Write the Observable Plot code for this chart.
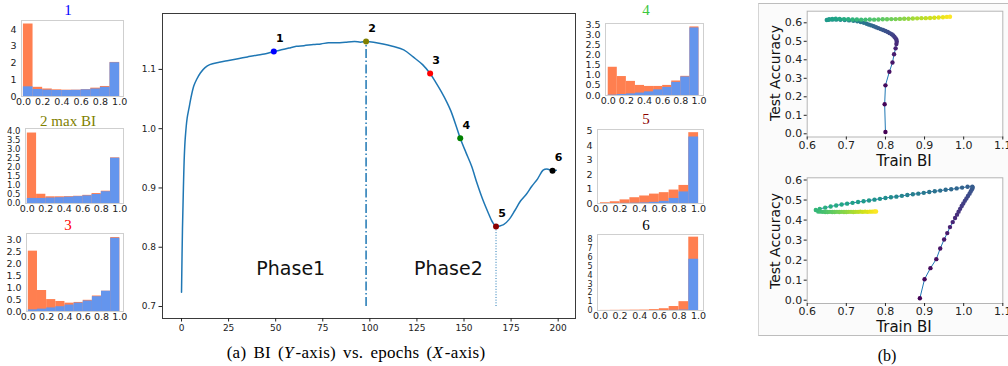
<!DOCTYPE html>
<html><head><meta charset="utf-8">
<script src="https://cdn.jsdelivr.net/npm/d3@7"></script>
<script src="https://cdn.jsdelivr.net/npm/@observablehq/plot@0.6"></script>
<style>
body{margin:0;background:#fff;}
#root{position:relative;width:1008px;height:366px;overflow:hidden;background:#fff;font-family:"DejaVu Sans",sans-serif;}
.abs{position:absolute;}
.abs svg{display:block;overflow:visible;}
.ttl{position:absolute;font-family:"Liberation Serif",serif;font-size:15px;transform:translate(-50%,-50%);white-space:nowrap;line-height:1;}
.lbl{position:absolute;font-family:"DejaVu Sans",sans-serif;color:#111;transform:translate(-50%,-50%);white-space:nowrap;line-height:1;}
</style></head><body><div id="root"></div>
<script>
// ---------- main chart data: BI vs epochs ----------
const epochs = [0,0.5,1,1.5,2,3,4,5,6.5,8,10,12.5,15,20,25,30,35,40,44,49,53,57,61,65,70,74,78,83,87,92,95,98,102,107,112,118,123,128,132,135,138,141,143,146,148,151,154,157,160,163,165,167,169,171,174,177,180,183,186,189,192,194,196,197,199];
const biValues = [0.724,0.83,0.90,0.955,0.985,1.018,1.035,1.052,1.072,1.083,1.094,1.103,1.108,1.112,1.115,1.118,1.121,1.124,1.126,1.130,1.133,1.136,1.139,1.140,1.142,1.143,1.145,1.145,1.146,1.147,1.146,1.147,1.146,1.143,1.139,1.133,1.121,1.108,1.093,1.078,1.062,1.044,1.030,1.003,0.984,0.960,0.937,0.907,0.880,0.857,0.843,0.835,0.836,0.838,0.847,0.862,0.878,0.889,0.903,0.915,0.930,0.932,0.930,0.929,0.930];
const keyLabels = ["1","2","3","4","5","6"];
const keyEpochs = [49,98,132,148,167,197];
const keyValues = [1.130,1.147,1.093,0.984,0.835,0.929];
const keyColors = ["#0000ff","#808000","#ff0000","#008000","#8b0000","#000000"];
const phaseLabels = ["Phase1","Phase2"];
const phaseEpochs = [58,141.7];
const phaseValues = [0.763,0.763];
const epochTicks = [0,25,50,75,100,125,150,175,200];
const biTicks = [0.7,0.8,0.9,1.0,1.1];
const biFloor = 0.7;

// ---------- histogram data (density, stacked: blue part and total height) ----------
const binStarts = [0,0.1,0.2,0.3,0.4,0.5,0.6,0.7,0.8,0.9];
const binEnds   = [0.1,0.2,0.3,0.4,0.5,0.6,0.7,0.8,0.9,1.0];
const h1Blue  = [0.58,0.42,0.38,0.36,0.36,0.37,0.40,0.45,0.55,2.02];
const h1Total = [4.34,0.55,0.45,0.40,0.38,0.38,0.41,0.50,0.60,2.04];
const h2Blue  = [0.28,0.28,0.30,0.32,0.35,0.38,0.42,0.50,0.65,2.50];
const h2Total = [3.89,0.51,0.37,0.37,0.38,0.40,0.45,0.55,0.68,2.52];
const h3Blue  = [0.07,0.10,0.15,0.20,0.27,0.35,0.44,0.62,0.85,3.07];
const h3Total = [2.53,0.88,0.50,0.42,0.35,0.38,0.47,0.65,0.85,3.10];
const h4Blue  = [0.02,0.05,0.08,0.12,0.18,0.28,0.40,0.65,0.92,3.35];
const h4Total = [1.40,0.94,0.70,0.50,0.45,0.45,0.50,0.72,0.95,3.40];
const h5Blue  = [0,0,0.01,0.02,0.04,0.08,0.15,0.35,0.80,4.60];
const h5Total = [0.05,0.12,0.25,0.40,0.52,0.65,0.75,0.93,1.25,4.90];
const h6Blue  = [0,0,0,0,0,0,0,0.02,0.05,5.80];
const h6Total = [0.01,0.02,0.03,0.04,0.05,0.10,0.20,0.45,1.00,8.30];
const histTitles = ["1","2 max BI","3","4","5","6"];
const histTitleColors = ["#0000ff","#808000","#ff0000","#3cc83c","#8b0000","#000000"];
const histXTicks = [0,0.2,0.4,0.6,0.8,1.0];
const h1YTicks = [0,1,2,3,4];
const h2YTicks = [0,0.5,1,1.5,2,2.5,3,3.5,4];
const h3YTicks = [0,0.5,1,1.5,2,2.5,3];
const h4YTicks = [0,0.5,1,1.5,2,2.5,3,3.5];
const h5YTicks = [0,1,2,3,4,5];
const h6YTicks = [0,1,2,3,4,5,6,7,8];

// ---------- (b) scatter data: Train BI vs Test Accuracy ----------
const b1BI = [0.800,0.798,0.800,0.810,0.818,0.822,0.826,0.828,0.829,0.828,0.826,0.823,0.820,0.816,0.811,0.806,0.800,0.794,0.788,0.782,0.776,0.770,0.764,0.758,0.752,0.745,0.737,0.728,0.718,0.707,0.696,0.685,0.674,0.664,0.655,0.650,
  0.656,0.664,0.673,0.683,0.694,0.705,0.716,0.727,0.738,0.749,0.760,0.771,0.782,0.793,0.804,0.815,0.826,0.837,0.848,0.859,0.870,0.881,0.892,0.903,0.914,0.925,0.936,0.947,0.957,0.965];
const b1Acc = [0.010,0.160,0.262,0.335,0.385,0.430,0.462,0.485,0.498,0.508,0.516,0.524,0.531,0.538,0.544,0.550,0.556,0.561,0.566,0.571,0.576,0.581,0.586,0.590,0.595,0.600,0.604,0.608,0.611,0.613,0.615,0.616,0.617,0.617,0.616,0.615,
  0.619,0.621,0.622,0.621,0.620,0.619,0.618,0.618,0.617,0.617,0.618,0.617,0.618,0.619,0.619,0.620,0.620,0.621,0.622,0.622,0.623,0.624,0.625,0.625,0.626,0.627,0.629,0.630,0.632,0.633];
const b2BI = [0.888,0.900,0.915,0.930,0.940,0.950,0.958,0.965,0.972,0.978,0.983,0.987,0.991,0.995,0.999,1.003,1.007,1.011,1.015,1.018,1.021,1.023,1.022,
  1.010,0.996,0.982,0.968,0.954,0.940,0.926,0.912,0.898,0.884,0.870,0.856,0.842,0.828,0.814,0.800,0.786,0.772,0.758,0.744,0.730,0.716,0.702,0.688,0.674,0.660,0.646,0.632,0.622,
  0.628,0.634,0.640,0.646,0.652,0.658,0.664,0.670,0.676,0.682,0.688,0.694,0.700,0.706,0.712,0.718,0.724,0.730,0.736,0.742,0.748,0.754,0.760,0.766,0.772,0.776];
const b2Acc = [0.010,0.105,0.160,0.205,0.258,0.303,0.335,0.365,0.390,0.410,0.427,0.442,0.456,0.470,0.483,0.496,0.508,0.520,0.532,0.543,0.553,0.561,0.567,
  0.566,0.562,0.558,0.554,0.551,0.547,0.544,0.540,0.536,0.532,0.529,0.525,0.521,0.517,0.514,0.510,0.506,0.502,0.498,0.494,0.490,0.486,0.482,0.478,0.473,0.468,0.462,0.456,0.450,
  0.443,0.442,0.441,0.440,0.440,0.441,0.440,0.440,0.441,0.440,0.441,0.440,0.440,0.441,0.441,0.440,0.441,0.441,0.442,0.441,0.442,0.441,0.442,0.442,0.443,0.443];
const bXTicks = [0.6,0.7,0.8,0.9,1.0,1.1];
const bYTicks = [0.0,0.1,0.2,0.3,0.4,0.5,0.6];

// ---------- helpers ----------
const root = document.getElementById("root");
function place(node, left, top){
  const d = document.createElement("div");
  d.className = "abs"; d.style.left = left + "px"; d.style.top = top + "px";
  d.appendChild(node); root.appendChild(d); return d;
}
function text(cls, str, x, y, style){
  const d = document.createElement("div");
  d.className = cls; d.innerHTML = str;
  d.style.left = x + "px"; d.style.top = y + "px";
  Object.assign(d.style, style || {});
  root.appendChild(d); return d;
}
const f1 = d3.format(".1f");

// ---------- (b) panel background box ----------
const box = document.createElement("div");
box.className = "abs";
Object.assign(box.style, {left:"758px", top:"3px", width:"260px", height:"331px", background:"#fbfbfb",
  borderTop:"1px solid #bdbdbd", borderBottom:"1px solid #bdbdbd", borderLeft:"1px solid #d5d5d5"});
root.appendChild(box);

// ---------- main chart ----------
const curve = epochs.map((e,i)=>({e, v: biValues[i]}));
const keys = keyEpochs.map((e,i)=>({e, v:keyValues[i], c:keyColors[i], t:keyLabels[i]}));
const phases = phaseLabels.map((t,i)=>({t, e:phaseEpochs[i], v:phaseValues[i]}));
const mainPlot = Plot.plot({
  width: 470, height: 345, marginLeft: 42, marginRight: 15, marginTop: 13, marginBottom: 27,
  x: {domain: [-10.1, 209.2]}, y: {domain: [0.6798, 1.1943]},
  color: {type: "identity"},
  style: {fontSize: "9px", fontFamily: "DejaVu Sans, sans-serif", color: "#222", background: "transparent", overflow: "visible"},
  marks: [
    Plot.frame({stroke: "#3a3a3a"}),
    Plot.axisX({ticks: epochTicks, tickSize: 3.5, tickPadding: 3, label: null}),
    Plot.axisY({ticks: biTicks, tickFormat: f1, tickSize: 3.5, tickPadding: 3, label: null}),
    Plot.ruleX([keys[1]], {x: "e", y1: biFloor, y2: "v", stroke: "#1f77b4", strokeWidth: 1.5, strokeDasharray: "9,2.5,1.5,2.5"}),
    Plot.ruleX([keys[4]], {x: "e", y1: biFloor, y2: "v", stroke: "#1f77b4", strokeWidth: 1, strokeDasharray: "1,1.7"}),
    Plot.line(curve, {x: "e", y: "v", stroke: "#1f77b4", strokeWidth: 1.5, curve: "catmull-rom"}),
    Plot.dot(keys, {x: "e", y: "v", fill: "c", r: 3}),
    Plot.text(keys, {x: "e", y: "v", text: "t", dx: 6, dy: -13, fontWeight: "bold", fontSize: 11, fill: "#000"}),
    Plot.text(phases, {x: "e", y: "v", text: "t", fontSize: 19, fill: "#111"})
  ]
});
place(mainPlot, 120, 0);

// ---------- histograms ----------
function hist(blue, total, left, right, top, bottom, yDomain, yTicks, yFmt, xDomain, yFont){
  const mL = 26, mR = 6, mT = 4, mB = 14;
  const W = (right-left)+mL+mR, H = (bottom-top)+mT+mB;
  const data = binStarts.map((s,i)=>({x1:s, x2:binEnds[i], b:blue[i], t:total[i]}));
  const p = Plot.plot({
    width: W, height: H, marginLeft: mL, marginRight: mR, marginTop: mT, marginBottom: mB,
    x: {domain: xDomain}, y: {domain: yDomain},
    style: {fontSize: "9.5px", fontFamily: "DejaVu Sans, sans-serif", color: "#222", background: "transparent", overflow: "visible"},
    marks: [
      Plot.rectY(data, {x1: "x1", x2: "x2", y1: 0, y2: "t", fill: "#ff7f50"}),
      Plot.rectY(data, {x1: "x1", x2: "x2", y1: 0, y2: "b", fill: "#6495ed"}),
      Plot.frame({stroke: "#cfcfcf"}),
      Plot.axisX({ticks: histXTicks, tickFormat: f1, tickSize: 0, tickPadding: 2, label: null}),
      Plot.axisY({ticks: yTicks, tickFormat: yFmt, tickSize: 0, tickPadding: 5, label: null, fontSize: yFont || 9.5})
    ]
  });
  place(p, left-mL, top-mT);
}
const intF = d3.format("d");
const LX = [-0.02, 1.04], RX = [-0.03, 1.05];
hist(h1Blue, h1Total, 21, 123, 20, 96, [0, 4.55], h1YTicks, intF, LX);
hist(h2Blue, h2Total, 25, 123, 128, 203, [0, 4.14], h2YTicks, f1, LX, 8.5);
hist(h3Blue, h3Total, 26, 123, 233, 311, [0, 3.27], h3YTicks, f1, LX);
hist(h4Blue, h4Total, 605, 703, 23, 95, [0, 3.57], h4YTicks, f1, RX);
hist(h5Blue, h5Total, 597, 703, 129, 203, [0, 5.12], h5YTicks, intF, RX);
hist(h6Blue, h6Total, 597, 703, 234, 310, [0, 8.6], h6YTicks, intF, RX, 8);
const titlePos = [[68,10],[68,121],[68,225],[646,10],[646,119],[646,225]];
histTitles.forEach((t,i)=>text("ttl", t, titlePos[i][0], titlePos[i][1], {color: histTitleColors[i]}));

// ---------- (b) scatters ----------
function scatter(xs, ys, top, H, mT, mB, yDomain){
  const data = xs.map((x,i)=>({x, y: ys[i], i}));
  const p = Plot.plot({
    width: 248, height: H, marginLeft: 46.7, marginRight: 5.7, marginTop: mT, marginBottom: mB,
    x: {domain: [0.6, 1.1]}, y: {domain: yDomain},
    color: {type: "linear", scheme: "viridis", domain: [0, xs.length-1]},
    style: {fontSize: "11px", fontFamily: "DejaVu Sans, sans-serif", color: "#222", background: "transparent", overflow: "visible"},
    marks: [
      Plot.frame({fill: "white", stroke: "#b5b5b5"}),
      Plot.axisX({ticks: bXTicks, tickFormat: f1, tickSize: 3, tickPadding: 1, label: null}),
      Plot.axisY({ticks: bYTicks, tickFormat: f1, tickSize: 3, tickPadding: 2, label: null}),
      Plot.line(data, {x: "x", y: "y", stroke: "#1f77b4", strokeWidth: 1}),
      Plot.dot(data, {x: "x", y: "y", fill: "i", r: 2.2})
    ]
  });
  place(p, 760, top);
}
scatter(b1BI, b1Acc, 0, 160, 10.7, 23.5, [-0.0173, 0.6627]);
scatter(b2BI, b2Acc, 165, 160, 12.3, 22, [-0.0164, 0.611]);
text("lbl", "Test Accuracy", 775, 72.5, {fontSize: "14px", transform: "translate(-50%,-50%) rotate(-90deg)"});
text("lbl", "Train BI", 904, 160.5, {fontSize: "15px"});
text("lbl", "Test Accuracy", 775, 241, {fontSize: "14px", transform: "translate(-50%,-50%) rotate(-90deg)"});
text("lbl", "Train BI", 904, 326.5, {fontSize: "15px"});

// ---------- captions ----------
text("ttl", "(a) BI (<i>Y</i>&#8202;-axis) vs. epochs (<i>X</i>&#8202;-axis)", 356, 352, {fontSize: "17px", color: "#000", wordSpacing: "2.5px", letterSpacing: "0.3px"});
text("ttl", "(b)", 887, 356, {fontSize: "16px", color: "#000"});
</script></body></html>
